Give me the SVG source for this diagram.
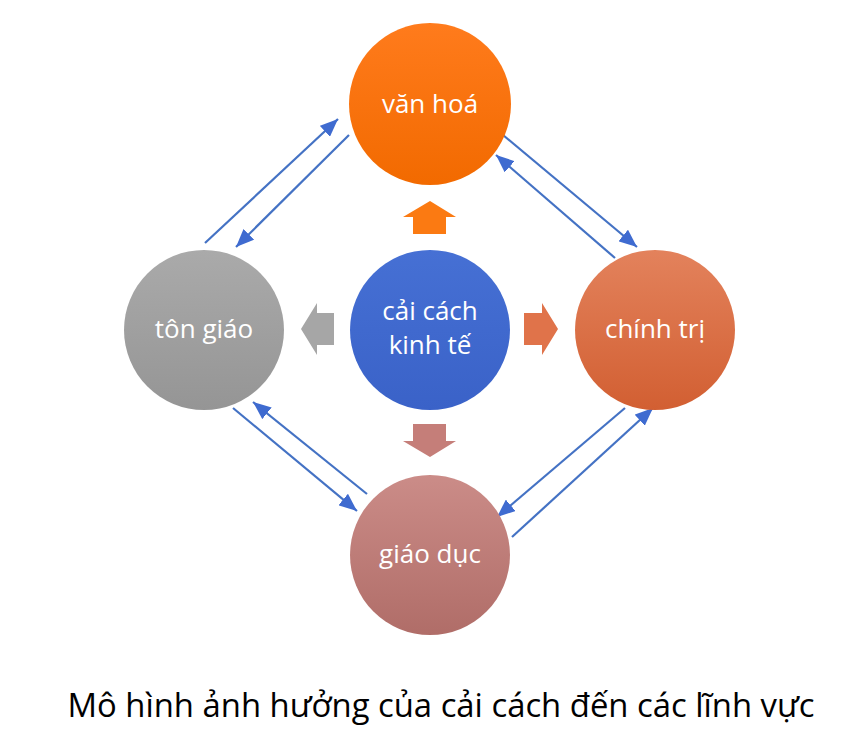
<svg xmlns="http://www.w3.org/2000/svg" width="852" height="755" viewBox="0 0 852 755">
<defs>
<linearGradient id="gOrange" x1="0" y1="0" x2="0" y2="1"><stop offset="0" stop-color="#FF7B1C"/><stop offset="1" stop-color="#F26A00"/></linearGradient>
<linearGradient id="gBlue" x1="0" y1="0" x2="0" y2="1"><stop offset="0" stop-color="#4670D4"/><stop offset="1" stop-color="#3A62C8"/></linearGradient>
<linearGradient id="gGray" x1="0" y1="0" x2="0" y2="1"><stop offset="0" stop-color="#AAAAAA"/><stop offset="1" stop-color="#959595"/></linearGradient>
<linearGradient id="gRed" x1="0" y1="0" x2="0" y2="1"><stop offset="0" stop-color="#E3825C"/><stop offset="1" stop-color="#D25F32"/></linearGradient>
<linearGradient id="gRose" x1="0" y1="0" x2="0" y2="1"><stop offset="0" stop-color="#CB8C88"/><stop offset="1" stop-color="#B06D68"/></linearGradient>
<marker id="ah2" viewBox="0 0 18 15" refX="18" refY="7.5" markerWidth="18" markerHeight="15" markerUnits="userSpaceOnUse" orient="auto">
<path d="M0,0 L18,7.5 L0,15 z" fill="#3F6BD0"/>
</marker>
</defs>
<style>
.lbl{font-family:"Open Sans","Noto Sans",sans-serif;font-size:26px;fill:#FFFFFF;text-anchor:middle}
.cap{font-family:"Open Sans","Noto Sans",sans-serif;font-size:32px;fill:#000000;text-anchor:middle}
.con{stroke:#4472C4;stroke-width:2.2;fill:none;marker-end:url(#ah2)}
</style>
<rect width="852" height="755" fill="#FFFFFF"/>
<g id="connectors">
<line class="con" x1="205" y1="243" x2="338" y2="119"/>
<line class="con" x1="349" y1="135" x2="236" y2="247"/>
<line class="con" x1="503" y1="135" x2="637" y2="247"/>
<line class="con" x1="615" y1="258" x2="496" y2="155"/>
<line class="con" x1="233" y1="408" x2="357" y2="511"/>
<line class="con" x1="367" y1="494" x2="253" y2="402"/>
<line class="con" x1="625" y1="408" x2="497" y2="517"/>
<line class="con" x1="512" y1="537" x2="653" y2="408"/>
</g>
<g id="arrow-up"><path d="M430,201 L456,217 L446,217 L446,234 L413,234 L413,217 L403,217 z" fill="#FB7A12"/></g>
<g id="arrow-down"><path d="M413,424 L446,424 L446,441 L456,441 L430,457 L403,441 L413,441 z" fill="#C57E79"/></g>
<g id="arrow-left"><path d="M301,329 L317,303 L317,313 L334,313 L334,345 L317,345 L317,355 z" fill="#A6A6A6"/></g>
<g id="arrow-right"><path d="M558,329 L542,303 L542,313 L524,313 L524,345 L542,345 L542,355 z" fill="#E0734A"/></g>
<g id="van-hoa"><circle cx="430" cy="104" r="81" fill="url(#gOrange)"/><text class="lbl" x="430" y="113">văn hoá</text></g>
<g id="cai-cach"><circle cx="430" cy="330" r="80" fill="url(#gBlue)"/><text class="lbl" x="430" y="320">cải cách</text><text class="lbl" x="430" y="354">kinh tế</text></g>
<g id="ton-giao"><circle cx="204" cy="330" r="80" fill="url(#gGray)"/><text class="lbl" x="204" y="338">tôn giáo</text></g>
<g id="chinh-tri"><circle cx="655" cy="330" r="80" fill="url(#gRed)"/><text class="lbl" x="655" y="338">chính trị</text></g>
<g id="giao-duc"><circle cx="430" cy="555" r="80" fill="url(#gRose)"/><text class="lbl" x="430" y="563">giáo dục</text></g>
<text class="cap" x="441" y="717" textLength="747" lengthAdjust="spacingAndGlyphs">Mô hình ảnh hưởng của cải cách đến các lĩnh vực</text>
</svg>
